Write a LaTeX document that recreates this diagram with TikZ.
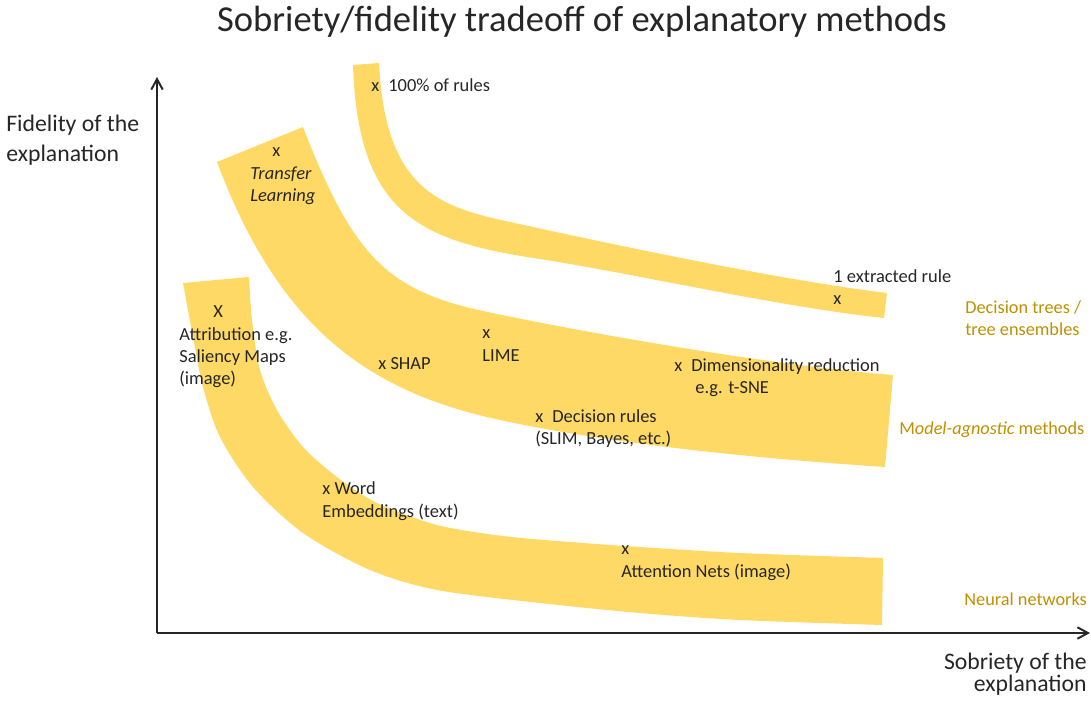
\documentclass[tikz,border=0pt]{standalone}
\usepackage{fontspec}
\setmainfont{Carlito}
\usetikzlibrary{arrows.meta}
\definecolor{bandc}{HTML}{FFD966}
\definecolor{goldt}{HTML}{BF9000}
\definecolor{ink}{HTML}{262626}
\definecolor{axisc}{HTML}{262626}
\tikzset{
  band/.style={fill=bandc},
  lab/.style={font=\fontsize{10.5}{12.6}\selectfont, text=ink, inner sep=0pt, anchor=base west},
  goldlab/.style={font=\fontsize{10.4}{12.6}\selectfont, text=goldt, inner sep=0pt, anchor=base west},
  axlab/.style={font=\fontsize{13.5}{16}\selectfont, text=ink, inner sep=0pt},
  ttl/.style={font=\fontsize{20.8}{24}\selectfont, text=ink, inner sep=0pt, anchor=base},
  axisline/.style={draw=axisc, line width=1.1pt, -{Straight Barb[length=6pt,width=6.5pt]}}
}
\begin{document}
\begin{tikzpicture}[x=0.02cm, y=-0.02cm]
\useasboundingbox (0,0) rectangle (1091,702);

% band 1: decision trees
\fill[band] (353,65) -- (379,63)
  .. controls (385,190) and (440,207) .. (510,222)
  .. controls (620,246) and (780,280) .. (887,293)
  -- (884,318)
  .. controls (780,307) and (636,274) .. (540,259)
  .. controls (420,241) and (358,215) .. (353,65) -- cycle;
% band 2: model-agnostic
\fill[band] (217,162) -- (303,127)
  .. controls (352,253) and (385,290) .. (483,311)
  .. controls (600,336) and (780,366) .. (893,375)
  -- (885,467)
  .. controls (780,460) and (620,446) .. (500,420)
  .. controls (370,392) and (280,330) .. (217,162) -- cycle;
% band 3: neural networks
\fill[band] plot[smooth] coordinates {(249,277) (252,320) (260,370) (277,410) (303,447) (337,477) (377,503) (437,525) (503,536) (570,542) (640,547) (740,553) (883,558)}
  -- plot[smooth] coordinates {(882,625) (740,620) (640,613) (540,603) (437,590) (370,570) (303,533) (253,487) (220,437) (203,387) (193,337) (183,283)} -- cycle;

% axes
\coordinate (O) at (157,633);
\coordinate (ytip) at (157,77);
\coordinate (xtip) at (1090,633);
\draw[axisline] (O) -- (ytip);
\draw[axisline] (O) -- (xtip);

% title
\node[ttl] (title) at (582,32) {Sobriety/fidelity tradeoff of explanatory methods};

% axis labels
\node[axlab, anchor=base west] (fid1) at (6,132) {Fidelity of the};
\node[axlab, anchor=base west] (fid2) at (6,162) {explanation};
\node[axlab, anchor=base east] (sob1) at (1087,669) {Sobriety of the};
\node[axlab, anchor=base east] (sob2) at (1087,691) {explanation};

% band 1 labels
\node[lab] (x100) at (371,92) {x};
\node[lab] (r100) at (388,92) {100\% of rules};
\node[lab] (r1) at (833,283) {1 extracted rule};
\node[lab] (x1) at (833,305) {x};

% band 2 labels
\node[lab] (xtl) at (272,157) {x};
\node[lab] (tl1) at (250,180) {\textit{Transfer}};
\node[lab] (tl2) at (250,202) {\textit{Learning}};
\node[lab] (shap) at (378,369) {x SHAP};
\node[lab] (xlime) at (482,338) {x};
\node[lab] (lime) at (482,361) {LIME};
\node[lab] (xdim) at (674,371) {x};
\node[lab] (dim1) at (691,371) {Dimensionality reduction};
\node[lab] (dim2) at (695,393) {e.g. t-SNE};
\node[lab] (xdr) at (535,422) {x};
\node[lab] (dr1) at (552,422) {Decision rules};
\node[lab] (dr2) at (535,444) {(SLIM, Bayes, etc.)};

% band 3 labels
\node[lab] (xat) at (213,317) {X};
\node[lab] (at1) at (179,340) {Attribution e.g.};
\node[lab] (at2) at (179,362) {Saliency Maps};
\node[lab] (at3) at (179,384) {(image)};
\node[lab] (we1) at (322,494) {x Word};
\node[lab] (we2) at (322,517) {Embeddings (text)};
\node[lab] (xan) at (621,554) {x};
\node[lab] (an) at (621,577) {Attention Nets (image)};

% category labels
\node[goldlab] (dt1) at (965,314) {Decision trees /};
\node[goldlab] (dt2) at (965,336) {tree ensembles};
\node[goldlab] (ma) at (899,434) {M\textit{odel-agnostic} methods};
\node[goldlab] (nn) at (964,605) {Neural networks};
\end{tikzpicture}
\end{document}
